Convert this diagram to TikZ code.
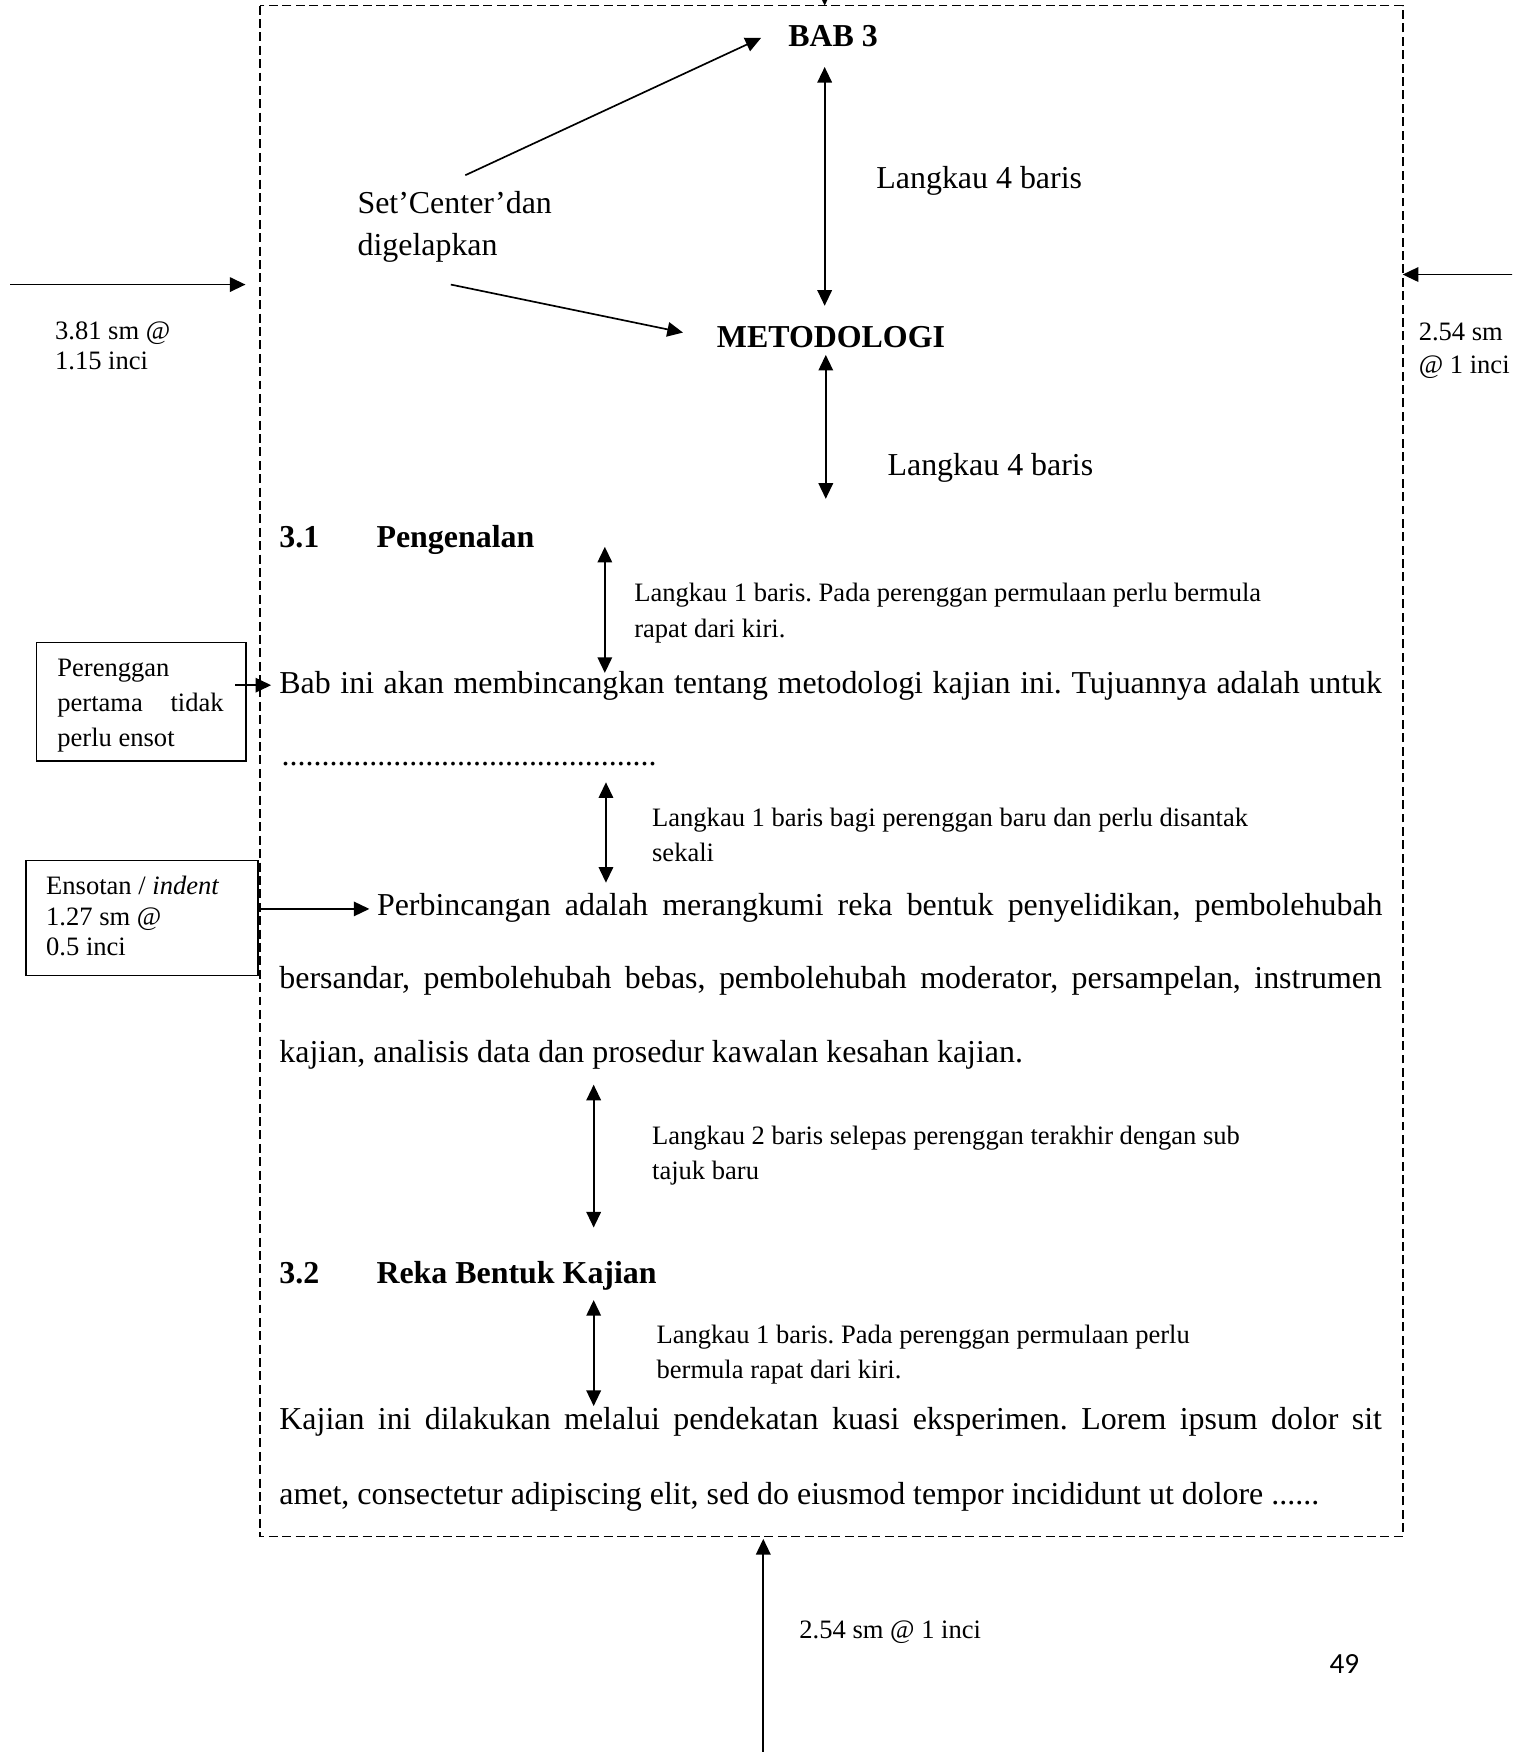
\documentclass[tikz,border=0pt]{standalone}
\usepackage{fontspec}
\setmainfont{Liberation Serif}
\newfontfamily\pagefont{Carlito}
\usetikzlibrary{arrows.meta}
\frenchspacing
\begin{document}
\frenchspacing
\begin{tikzpicture}[x=0.5pt,y=-0.5pt,
  txt/.style={inner sep=0pt,anchor=base west,font=\fontsize{14.3}{17}\selectfont},
  small/.style={inner sep=0pt,anchor=base west,font=\fontsize{11.9}{14}\selectfont},
  head/.style={inner sep=0pt,anchor=base west,font=\fontsize{14.3}{17}\selectfont\bfseries},
  arr/.style={line width=0.75pt,-{Triangle[length=7pt,width=6.5pt]}},
  darr/.style={line width=0.75pt,{Triangle[length=7pt,width=6.5pt]}-{Triangle[length=7pt,width=6.5pt]}},
  pageframe/.style={line width=0.7pt,dash pattern=on 4pt off 2pt},
  lbox/.style={draw,line width=0.7pt,inner sep=0pt,anchor=north west}]
\useasboundingbox (0,0) rectangle (1355,1570);
\clip (0,0) rectangle (1355,1570);

% page frame
\draw[pageframe] (233,5) rectangle (1257,1377);
\coordinate (ftop) at (739,5);
\coordinate (fleft) at (220,255);
\coordinate (fright) at (1257,246);
\coordinate (fbot) at (684,1379);
\coordinate (tsrc) at (739,-40);
\coordinate (lsrc) at (9,255);
\coordinate (rsrc) at (1360,246);
\coordinate (bsrc) at (684,1600);
\draw[arr] (tsrc) -- (ftop);
\draw[arr] (lsrc) -- (fleft);
\draw[arr] (rsrc) -- (fright);
\draw[arr] (bsrc) -- (fbot);

% margin labels
\node[small] (l1) at (49,304) {3.81 sm @};
\node[small] (l2) at (49,331) {1.15 inci};
\node[small] (r1) at (1271,305) {2.54 sm};
\node[small] (r2) at (1271,335) {@ 1 inci};
\node[small] (b1) at (716,1468) {2.54 sm @ 1 inci};
\node[inner sep=0pt,anchor=base west,font=\pagefont\fontsize{13.1}{15}\selectfont] (pg) at (1191,1500) {49};

% titles
\node[head] (bab) at (706,42) {BAB 3};
\node[head] (meto) at (642,311) {METODOLOGI};
\node[txt] (set1) at (320,191) {Set’Center’dan};
\node[txt] (set2) at (320,229) {digelapkan};
\coordinate (s1) at (417,157);
\coordinate (s1e) at (682,34);
\coordinate (s2) at (404,255);
\coordinate (s2e) at (612,298);
\draw[arr] (s1) -- (s1e);
\draw[arr] (s2) -- (s2e);

\coordinate (a1t) at (739,60);
\coordinate (a1b) at (739,274);
\draw[darr] (a1t) -- (a1b);
\node[txt] (lk1) at (785,169) {Langkau 4 baris};
\coordinate (a2t) at (740,318);
\coordinate (a2b) at (740,447);
\draw[darr] (a2t) -- (a2b);
\node[txt] (lk2) at (795,426) {Langkau 4 baris};

% 3.1
\node[head] (h31n) at (250,491) {3.1};
\node[head] (h31) at (337,491) {Pengenalan};
\coordinate (a3t) at (542,490);
\coordinate (a3b) at (542,603);
\draw[darr] (a3t) -- (a3b);
\node[small] (n1a) at (568,539) {Langkau 1 baris. Pada perenggan permulaan perlu bermula};
\node[small] (n1b) at (568,571) {rapat dari kiri.};

% box 1
\node[lbox,minimum width=93.75pt,minimum height=53pt] (pbox) at (32,575) {};
\node[small] (pb1) at (51,606) {Perenggan};
\node[small] (pb2) at (51,638) {\makebox[74.5pt][s]{pertama tidak}};
\node[small] (pb3) at (51,669) {perlu ensot};
\coordinate (pa) at (211,614);
\coordinate (pae) at (243,614);
\draw[arr] (pa) -- (pae);

\node[txt] (p1) at (250,621) {\makebox[494pt][s]{Bab ini akan membincangkan tentang metodologi kajian ini. Tujuannya adalah untuk}};
\node[txt] (dots) at (252,686) {...............................................};

\coordinate (a4t) at (543,701);
\coordinate (a4b) at (543,791);
\draw[darr] (a4t) -- (a4b);
\node[small] (n2a) at (584,741) {Langkau 1 baris bagi perenggan baru dan perlu disantak};
\node[small] (n2b) at (584,772) {sekali};

% box 2
\node[lbox,minimum width=104pt,minimum height=51.5pt] (ebox) at (22.5,770.5) {};
\node[small] (eb1) at (41,802) {Ensotan / \textit{indent}};
\node[small] (eb2) at (41,829) {1.27 sm @};
\node[small] (eb3) at (41,856) {0.5 inci};
\coordinate (ea) at (231,814.5);
\coordinate (eae) at (331,814.5);
\draw[arr] (ea) -- (eae);

\node[txt] (p2a) at (337.5,820) {\makebox[450.5pt][s]{Perbincangan adalah merangkumi reka bentuk penyelidikan, pembolehubah}};
\node[txt] (p2b) at (250,886) {\makebox[494pt][s]{bersandar, pembolehubah bebas, pembolehubah moderator, persampelan, instrumen}};
\node[txt] (p2c) at (250,952) {kajian, analisis data dan prosedur kawalan kesahan kajian.};

\coordinate (a5t) at (532,972);
\coordinate (a5b) at (532,1100);
\draw[darr] (a5t) -- (a5b);
\node[small] (n3a) at (584,1026) {Langkau 2 baris selepas perenggan terakhir dengan sub};
\node[small] (n3b) at (584,1057) {tajuk baru};

% 3.2
\node[head] (h32n) at (250,1150) {3.2};
\node[head] (h32) at (337,1150) {Reka Bentuk Kajian};
\coordinate (a6t) at (532,1165);
\coordinate (a6b) at (532,1260);
\draw[darr] (a6t) -- (a6b);
\node[small] (n4a) at (588,1204) {Langkau 1 baris. Pada perenggan permulaan perlu};
\node[small] (n4b) at (588,1235) {bermula rapat dari kiri.};

\node[txt] (p3a) at (250,1281) {\makebox[494pt][s]{Kajian ini dilakukan melalui pendekatan kuasi eksperimen. Lorem ipsum dolor sit}};
\node[txt] (p3b) at (250,1348) {amet, consectetur adipiscing elit, sed do eiusmod tempor incididunt ut dolore ......};
\end{tikzpicture}
\end{document}
